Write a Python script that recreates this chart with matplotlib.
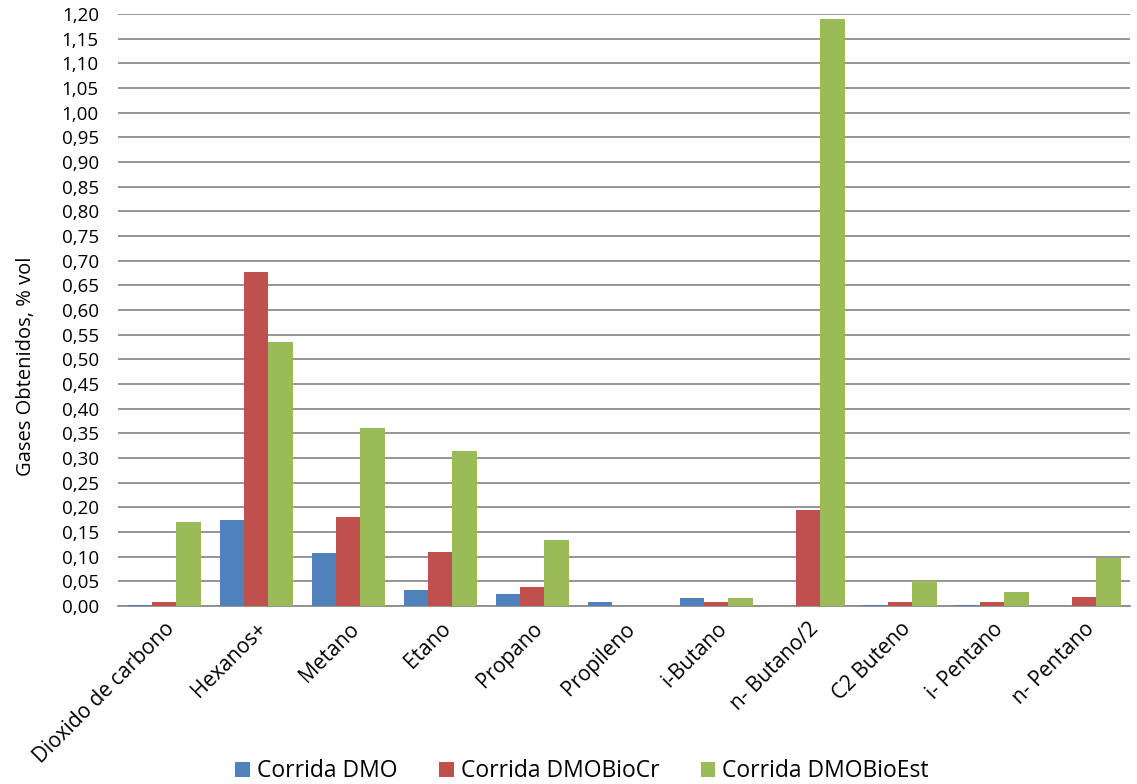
import numpy as np
import matplotlib.pyplot as plt
from matplotlib.ticker import MultipleLocator, FuncFormatter

plt.rcParams['font.family'] = ['Open Sans', 'DejaVu Sans']

categorias = ['Dioxido de carbono', 'Hexanos+', 'Metano', 'Etano', 'Propano',
              'Propileno', 'i-Butano', 'n- Butano/2', 'C2 Buteno', 'i- Pentano',
              'n- Pentano']
corrida_dmo = [0.003, 0.174, 0.107, 0.032, 0.024, 0.008, 0.016, 0.0, 0.003, 0.002, 0.0]
corrida_biocr = [0.008, 0.677, 0.180, 0.109, 0.038, 0.0, 0.008, 0.195, 0.008, 0.008, 0.018]
corrida_bioest = [0.170, 0.535, 0.361, 0.314, 0.134, 0.0, 0.017, 1.190, 0.051, 0.028, 0.098]
series = ['Corrida DMO', 'Corrida DMOBioCr', 'Corrida DMOBioEst']
colores = ['#4F81BD', '#C0504D', '#9BBB59']

fig = plt.figure(figsize=(11.37, 7.84), dpi=100)
ax = fig.add_axes([0.104, 0.227, 0.890, 0.755])

x = np.arange(len(categorias))
w = 0.266
for i, (vals, nombre, c) in enumerate(zip([corrida_dmo, corrida_biocr, corrida_bioest], series, colores)):
    ax.bar(x + (i - 1) * w, vals, w, color=c, label=nombre, zorder=3)

ax.set_xlim(-0.5, len(categorias) - 0.5)
ax.set_ylim(0, 1.2)
ax.yaxis.set_major_locator(MultipleLocator(0.05))
ax.yaxis.set_major_formatter(FuncFormatter(lambda v, p: f'{v:.2f}'.replace('.', ',')))
ax.grid(axis='y', color='#8c8c8c', linewidth=1.3, zorder=0)
for s in ['top', 'right', 'left']:
    ax.spines[s].set_visible(False)
ax.spines['bottom'].set_color('#8c8c8c')
ax.spines['bottom'].set_linewidth(1.3)
ax.tick_params(axis='y', length=0, labelsize=13.5, pad=14)
ax.tick_params(axis='x', length=0, labelsize=15, pad=9)
ax.set_xticks(x)
ax.set_xticklabels(categorias, rotation=45, ha='right', rotation_mode='anchor')
ax.set_ylabel('Gases Obtenidos, % vol', fontsize=14.5)
ax.yaxis.set_label_coords(-0.081, 0.405)

fig.legend(loc='center', bbox_to_anchor=(0.512, 0.016), ncol=3, frameon=False,
           fontsize=16.5, handlelength=0.65, handleheight=0.65, handletextpad=0.3,
           columnspacing=1.8, borderpad=0)

fig.savefig('out.png', dpi=100)
